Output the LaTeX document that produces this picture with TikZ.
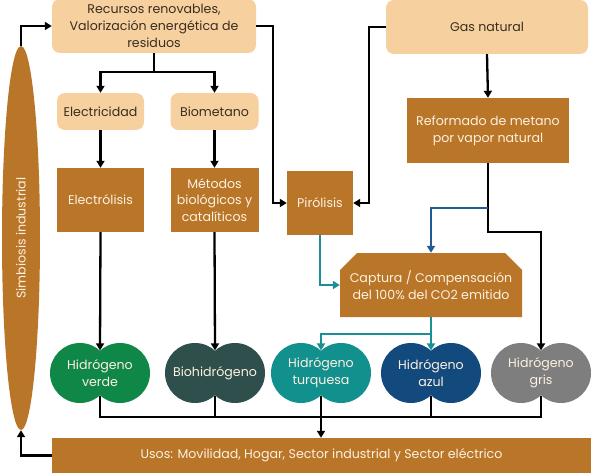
\documentclass[tikz,border=0pt]{standalone}
\usepackage{fontspec}
\setmainfont{Poppins}
\usetikzlibrary{arrows.meta,shapes.misc,shapes.geometric,calc}
\definecolor{peach}{HTML}{F6D09F}
\definecolor{brownbox}{HTML}{B97629}
\definecolor{cream}{HTML}{FDF1E0}
\definecolor{darktxt}{HTML}{3A2E20}
\definecolor{hverde}{HTML}{0E8747}
\definecolor{hbio}{HTML}{2E4F4B}
\definecolor{hturq}{HTML}{12908E}
\definecolor{hazul}{HTML}{124A7E}
\definecolor{hgris}{HTML}{7E7E7E}
\definecolor{tealline}{HTML}{1A8F95}
\definecolor{blueline}{HTML}{1F5A99}
\newcommand\hdos[4]{%
  \fill[#3] ({#2-20},373) circle[radius=30pt] ({#2+20},373) circle[radius=30pt];
  \node[h2] (#1) at (#2,373) {#4};}
\begin{document}
\begin{tikzpicture}[x=1pt,y=-1pt,
  every node/.style={font=\fontsize{12.6}{16.8}\selectfont},
  lightbox/.style={fill=peach,rounded corners=8pt,text=darktxt,align=center,inner sep=0pt},
  darkbox/.style={fill=brownbox,text=cream,align=center,inner sep=0pt},
  h2/.style={minimum width=40pt,minimum height=44.8pt,inner sep=0pt,text=cream,align=center},
  conn/.style={line width=2.3pt,black},
  arr/.style={conn,-{Triangle[length=7pt,width=8pt]}},
  tarr/.style={line width=2.3pt,tealline,-{Triangle[length=7pt,width=8pt]}},
  barr/.style={line width=2.3pt,blueline,-{Triangle[length=7pt,width=8pt]}}]
\useasboundingbox (0,0) rectangle (591,473);
% boxes
\node[lightbox,minimum width=204pt,minimum height=54pt] (rec) at (154,26) {Recursos renovables,\\Valorización energética de\\residuos};
\node[lightbox,minimum width=87pt,minimum height=37pt] (elec) at (100.5,111.5) {Electricidad};
\node[lightbox,minimum width=88pt,minimum height=37pt] (biom) at (214.5,111.5) {Biometano};
\node[darkbox,minimum width=87pt,minimum height=64pt] (etl) at (100.5,200) {Electrólisis};
\node[darkbox,minimum width=88pt,minimum height=64pt] (met) at (214.5,200) {Métodos\\biológicos y\\catalíticos};
\node[darkbox,minimum width=66pt,minimum height=64pt] (pir) at (320,203) {Pirólisis};
\node[lightbox,minimum width=202pt,minimum height=54pt] (gas) at (487,27) {Gas natural};
\node[darkbox,minimum width=162pt,minimum height=65pt] (ref) at (488,130.5) {Reformado de metano\\por vapor natural};
\node[darkbox,chamfered rectangle,chamfered rectangle corners={north west,north east},
  chamfered rectangle xsep=8pt,chamfered rectangle ysep=9pt,
  minimum width=182pt,minimum height=64pt] (cap) at (431,285) {Captura / Compensación\\del 100\% del CO2 emitido};
\node[darkbox,minimum width=539pt,minimum height=35pt] (usos) at (321.5,455.5) {Usos: Movilidad, Hogar, Sector industrial y Sector eléctrico};
\node[ellipse,fill=brownbox,minimum width=38pt,minimum height=384pt,inner sep=0pt] (simb) at (21,238) {};
\node[text=cream,rotate=90] at (simb.center) {Simbiosis industrial};
% hydrogen
\hdos{hv}{100}{hverde}{Hidrógeno\\verde}
\hdos{hb}{215}{hbio}{Biohidrógeno}
\hdos{ht}{321}{hturq}{Hidrógeno\\turquesa}
\hdos{ha}{431}{hazul}{Hidrógeno\\azul}
\hdos{hg}{541}{hgris}{Hidrógeno\\gris}
% connectors
\draw[arr] (rec.south) -- ++(0,19) -| (elec.north);
\draw[arr] (rec.south) ++(0,19) -| (biom.north);
\draw[arr] (elec.south) -- (etl.north);
\draw[arr] (biom.south) -- (met.north);
\draw[arr] (etl.south) -- (hv.north);
\draw[arr] (met.south) -- (hb.north);
\draw[arr] (rec.east) -- ++(17,0) |- (pir.west);
\draw[arr] (gas.west) -- ++(-17,0) |- (pir.east);
\draw[arr] (gas.south) -- (ref.north);
\draw[arr] (ref.south) -- ++(0,69) -| (hg.north);
\coordinate (bj) at (488,208);
\draw[barr] (bj) -| (cap.north);
\draw[tarr] (pir.south) |- (cap.west);
\coordinate (tj) at (431,334);
\draw[tarr] (cap.south) -- (tj) -| (ht.north);
\draw[tarr] (tj) -- (ha.north);
\coordinate (bus) at (0,417);
\draw[conn] (hv.south) |- (bus -| hg.south) -- (hg.south);
\draw[conn] (hb.south) -- (hb.south |- bus);
\draw[conn] (ha.south) -- (ha.south |- bus);
\draw[arr] (ht.south) -- (ht.south |- usos.north);
\draw[arr] (usos.west) -| (simb.south);
\draw[arr] (simb.north) |- (rec.west);
\end{tikzpicture}
\end{document}
